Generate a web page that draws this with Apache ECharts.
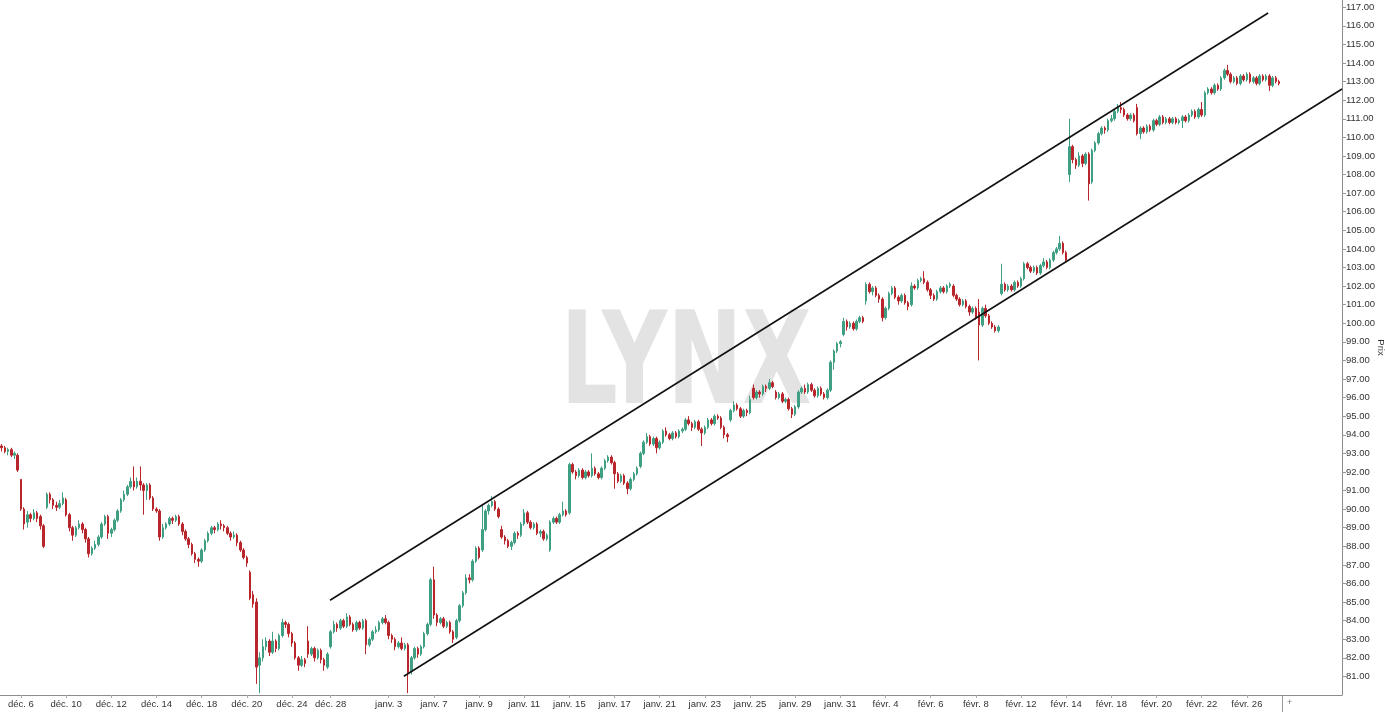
<!DOCTYPE html>
<html><head><meta charset="utf-8">
<script src="https://cdn.jsdelivr.net/npm/echarts@6/dist/echarts.min.js"></script>
<style>html,body{margin:0;padding:0;background:#fff}#c{width:1385px;height:715px}</style>
</head><body><div id="c"></div>
<script>
// Tick labels on the time axis and the candle index at which each sits
const dateLabels = ['déc. 6','déc. 10','déc. 12','déc. 14','déc. 18','déc. 20','déc. 24','déc. 28','janv. 3','janv. 7','janv. 9','janv. 11','janv. 15','janv. 17','janv. 21','janv. 23','janv. 25','janv. 29','janv. 31','févr. 4','févr. 6','févr. 8','févr. 12','févr. 14','févr. 18','févr. 20','févr. 22','févr. 26'];
const labelIndex = [6,20,34,48,62,76,90,102,120,134,148,162,176,190,204,218,232,246,260,274,288,302,316,330,344,358,372,386];
const slotCount = 416;
// price ticks
const priceTicks = [81,82,83,84,85,86,87,88,89,90,91,92,93,94,95,96,97,98,99,100,101,102,103,104,105,106,107,108,109,110,111,112,113,114,115,116,117];
// candles: [open, close, low, high]
const candlesDec = [
[93.4,93.3,93.1,93.5],[93.3,93.1,93.0,93.4],[93.1,93.2,92.9,93.3],[93.2,92.9,92.8,93.3],[92.9,93.0,92.7,93.1],
[92.9,92.1,92.0,93.0],[91.6,90.0,89.9,91.6],[90.0,89.2,88.9,90.1],[89.3,89.7,89.0,89.9],[89.7,89.5,89.3,89.8],
[89.5,89.8,89.4,90.0],[89.8,89.5,89.3,89.9],[89.6,89.1,88.9,89.7],[89.1,88.0,87.9,89.2],[90.1,90.8,90.0,90.9],
[90.8,90.5,90.3,90.9],[90.5,90.2,90.0,90.6],[90.2,90.1,89.9,90.4],[90.1,90.3,90.0,90.5],[90.3,90.6,90.2,90.9],
[90.5,89.7,89.6,90.6],[89.7,89.0,88.8,89.8],[89.0,88.6,88.3,89.1],[88.6,89.0,88.5,89.1],[89.0,89.2,88.9,89.4],
[89.2,88.9,88.7,89.3],[88.9,88.4,88.2,89.0],[88.4,87.6,87.4,88.5],[87.6,87.9,87.5,88.0],[87.9,88.1,87.8,88.3],
[88.1,88.5,88.0,88.6],[88.5,89.2,88.4,89.3],[89.2,89.6,89.1,89.7],[89.6,88.7,88.4,89.7],[88.7,88.9,88.5,89.0],
[88.9,89.4,88.8,89.5],[89.4,89.9,89.3,90.0],[89.9,90.5,89.8,90.6],[90.5,90.8,90.4,91.0],[90.8,91.2,90.7,91.3],
[91.2,91.5,91.1,91.7],[91.5,91.2,91.0,92.3],[91.2,91.5,91.1,91.7],[91.5,91.3,91.0,92.3],[91.3,91.0,89.7,91.4],
[91.0,91.3,90.5,91.4],[91.3,90.6,90.5,91.4],[90.6,90.0,89.9,90.7],[90.0,89.9,89.8,90.1],[89.9,88.5,88.3,90.0],
[88.5,89.0,88.4,89.2],[89.0,89.2,88.9,89.3],[89.2,89.5,89.1,89.6],[89.5,89.4,89.2,89.6],[89.4,89.6,89.3,89.7],
[89.6,89.2,89.1,89.7],[89.2,88.8,88.6,89.3],[88.8,88.4,88.3,88.9],[88.4,88.1,87.9,88.5],[88.1,87.6,87.5,88.2],
[87.6,87.3,87.1,87.7],[87.3,87.2,86.9,87.4],[87.2,87.8,87.1,87.9],[87.8,88.3,87.7,88.4],[88.3,88.7,88.2,88.8],
[88.7,89.0,88.6,89.1],[89.0,88.9,88.7,89.1],[88.9,89.2,88.8,89.3],[89.2,89.1,88.9,89.4],[89.1,89.0,88.8,89.2],
[89.0,88.7,88.6,89.1],[88.7,88.5,88.3,88.8],[88.5,88.6,88.4,88.8],[88.6,88.2,88.0,88.7],[88.2,87.8,87.7,88.3],
[87.8,87.4,87.3,87.9],[87.4,87.1,86.9,87.5],[86.6,85.2,85.1,86.7],[85.4,84.9,84.7,85.6],[85.0,81.5,80.6,85.2],
[81.6,82.0,80.1,82.3],[82.0,82.6,81.8,83.0],[82.6,82.9,82.4,83.1],[82.9,82.3,82.1,83.0],[82.3,82.9,82.2,83.4],
[82.9,82.5,82.3,83.0],[82.5,83.2,82.4,83.3],[83.2,83.9,83.1,84.1],[83.9,83.8,83.6,84.0],[83.8,83.3,83.1,83.9],
[83.3,82.8,82.6,83.4],[82.8,82.0,81.9,82.9],[82.0,81.6,81.3,82.1],[81.6,81.9,81.5,82.1],[81.9,81.7,81.5,82.0],
[82.9,82.2,82.0,83.7],[82.2,82.5,82.1,82.6],[82.5,82.0,81.8,82.6],[82.0,82.4,81.9,82.5],[82.4,81.9,81.7,82.5],
[81.9,81.6,81.3,82.0],[81.5,82.2,81.4,82.3],[82.6,83.4,82.5,83.5],[83.4,83.8,83.3,84.0],[83.8,83.6,83.4,83.9],
[83.6,84.0,83.5,84.1],[84.0,83.7,83.6,84.1],[83.7,84.2,83.6,84.4],[84.2,83.8,83.7,84.3],[83.8,83.5,83.4,83.9],
[83.5,83.9,83.4,84.0],[83.9,83.6,83.5,84.0],[83.6,84.0,83.5,84.1]
];
const candlesJan = [
[84.0,82.7,82.2,84.1],[82.7,83.0,82.6,83.1],[83.0,83.4,82.9,83.5],[83.4,83.5,83.3,83.7],[83.5,83.9,83.4,84.0],
[83.9,84.1,83.8,84.2],[84.1,83.9,83.8,84.3],[83.9,83.2,83.0,84.0],[83.2,83.0,82.8,83.3],[83.0,82.6,82.4,83.1],
[82.6,82.8,82.5,82.9],[82.8,82.5,82.4,83.1],[82.5,82.7,82.4,82.8],[82.7,81.2,80.1,82.8],[81.3,82.0,81.1,82.1],
[82.0,82.5,81.9,82.6],[82.5,82.2,82.0,82.6],[82.2,82.6,82.1,82.7],[82.6,83.3,82.5,83.4],[83.3,83.8,83.2,83.9],
[83.8,86.2,83.7,86.3],[86.2,84.3,84.1,86.9],[84.3,83.9,83.7,84.4],[83.9,84.1,83.8,84.2],[84.1,83.7,83.6,84.2],
[83.7,83.9,83.6,84.0],[83.9,83.4,83.3,84.0],[83.4,83.0,82.8,83.5],[83.1,84.0,83.0,84.1],[84.0,84.8,83.9,84.9],
[84.8,85.5,84.7,85.6],[85.5,86.3,85.4,86.5],[86.3,86.2,86.0,86.5],[86.2,87.2,86.1,87.3],[87.2,87.9,87.1,88.0],
[87.9,87.4,87.3,88.0],[87.8,88.9,87.7,90.2],[88.9,89.9,88.8,90.0],[89.9,90.2,89.7,90.3],[90.2,90.4,90.1,90.7],
[90.4,90.0,89.9,90.5],[90.0,89.6,89.5,90.1],[88.9,88.5,88.4,89.1],[88.5,88.3,88.1,88.6],[88.3,88.0,87.9,88.4],
[88.0,88.2,87.8,88.3],[88.2,88.7,88.1,88.8],[88.7,88.6,88.4,88.8],[88.6,89.2,88.5,89.3],[89.2,89.8,89.1,90.0],
[89.8,89.3,89.2,89.9],[89.3,89.0,88.9,89.4],[89.0,89.2,88.9,89.3],[89.2,88.7,88.6,89.3],[88.7,88.8,88.5,88.9],
[88.8,88.4,88.3,88.9],[88.4,88.6,88.3,88.7],[87.8,89.3,87.7,89.4],[89.3,89.5,89.2,89.6],[89.5,89.3,89.2,89.6],
[89.3,89.7,89.2,89.8],[89.7,89.9,89.6,90.4],[89.9,89.7,89.6,90.0],[89.8,92.4,89.7,92.5],[92.4,92.0,91.9,92.5],
[92.0,91.8,91.6,92.1],[91.8,92.1,91.7,92.2],[92.1,91.7,91.6,92.2],[91.7,92.0,91.6,92.1],[92.0,91.8,91.7,92.1],
[91.8,92.2,91.7,93.0],[92.2,91.9,91.8,92.3],[91.9,91.7,91.6,92.0],[91.7,92.2,91.6,92.3],[92.2,92.6,92.1,92.7],
[92.6,92.8,92.5,92.9],[92.8,92.5,92.4,92.9],[92.5,91.9,91.1,92.6],[91.9,91.5,91.4,92.0],[91.5,91.8,91.4,91.9],
[91.8,91.4,91.3,91.9],[91.4,91.1,90.8,91.5],[91.1,91.6,91.0,91.7],[91.6,91.9,91.5,92.0],[91.9,92.2,91.8,92.3],
[92.3,93.0,92.2,93.1],[93.0,93.6,92.9,93.7],[93.6,93.9,93.5,94.1],[93.9,93.5,93.4,94.0],[93.5,93.8,93.4,93.9],
[93.8,93.3,93.0,93.9],[93.3,93.6,93.2,93.7],[93.6,94.2,93.5,94.3],[94.2,94.0,93.9,94.4],[94.0,93.8,93.7,94.1],
[93.8,94.1,93.7,94.2],[94.1,93.9,93.8,94.2],[93.9,94.2,93.8,94.3],[94.2,94.3,94.1,94.4],[94.3,94.8,94.2,94.9],
[94.8,94.6,94.5,95.0],[94.6,94.4,94.2,94.7],[94.4,94.7,94.3,94.8],[94.7,94.3,94.2,94.8],[94.3,94.1,93.4,94.4],
[94.1,94.4,94.0,94.5],[94.4,94.8,94.3,94.9],[94.8,94.6,94.5,94.9],[94.6,95.0,94.5,95.1],[95.0,94.9,94.8,95.1],
[94.9,94.4,94.3,95.0],[94.4,94.0,93.8,94.5],[94.0,93.9,93.6,94.1],[94.8,95.3,94.7,95.4],[95.3,95.6,95.2,95.8],
[95.6,95.4,95.3,95.7],[95.4,95.0,94.9,95.5],[95.0,95.3,94.9,95.4],[95.3,95.2,95.0,95.4],[95.2,95.9,95.1,96.1],
[96.5,96.0,95.9,96.7],[96.0,96.3,95.9,96.4],[96.3,96.2,96.0,96.4],[96.2,96.6,96.1,96.7],[96.6,96.5,96.3,96.7],
[96.5,96.8,96.4,97.0],[96.8,96.6,96.5,96.9],[96.3,96.0,95.9,96.4],[96.0,96.2,95.9,96.3],[96.2,95.8,95.7,96.3],
[95.8,95.9,95.7,96.0],[95.9,95.4,95.3,96.0],[95.4,95.1,94.9,95.5],[95.1,95.5,95.0,95.6],[95.5,96.3,95.4,96.4],
[96.3,96.5,96.2,96.6],[96.5,96.3,96.2,96.7],[96.3,96.7,96.2,96.8],[96.7,96.4,96.3,96.8],[96.4,96.1,96.0,96.5],
[96.1,96.5,96.0,96.6],[96.5,96.2,96.1,96.6],[96.2,96.0,95.9,96.3],[96.0,96.4,95.9,96.5],[96.4,97.9,96.3,98.0],
[97.9,98.5,97.5,98.6],[98.5,98.9,98.4,99.0],[98.9,99.0,98.7,99.1],[99.4,100.1,99.3,100.3],[100.1,99.8,99.6,100.2],
[99.8,100.0,99.7,100.1],[100.0,99.7,99.6,100.1],[99.7,100.1,99.6,100.2],[100.1,100.3,100.0,100.4],[100.3,100.1,100.0,100.4]
];
const candlesFeb = [
[101.2,102.1,101.0,102.2],[102.1,101.7,101.6,102.2],[101.7,101.9,101.5,102.0],[101.9,101.5,101.4,102.0],[101.5,101.3,101.1,101.6],
[101.3,100.3,100.1,101.4],[100.3,100.8,100.2,100.9],[100.8,101.6,100.7,101.7],[101.6,101.9,101.5,102.0],[101.9,101.4,101.3,102.0],
[101.4,101.2,101.0,101.5],[101.2,101.5,101.1,101.6],[101.5,101.1,101.0,101.6],[101.1,100.9,100.7,101.2],[101.0,102.0,100.9,102.2],
[102.0,101.9,101.8,102.1],[101.9,102.3,101.8,102.4],[102.3,102.4,102.2,102.5],[102.4,102.2,102.1,102.8],[102.2,101.8,101.7,102.3],
[101.8,101.5,101.3,101.9],[101.5,101.3,101.2,101.6],[101.3,101.7,101.2,101.8],[101.7,101.9,101.6,102.0],[101.9,101.7,101.6,102.0],
[101.7,102.0,101.6,102.1],[102.0,102.1,101.9,102.2],[102.0,101.5,101.4,102.1],[101.5,101.3,101.2,101.6],[101.3,101.0,100.9,101.4],
[101.0,101.2,100.9,101.3],[101.2,100.9,100.8,101.3],[100.9,100.6,100.4,101.0],[100.6,100.8,100.5,100.9],[100.8,100.3,100.2,100.9],
[100.6,99.9,98.0,101.3],[99.9,100.8,99.8,100.9],[100.8,100.4,100.3,101.0],[100.4,100.0,99.9,100.5],[100.0,99.8,99.7,100.1],
[99.8,99.6,99.5,99.9],[99.6,99.8,99.5,99.9],[101.6,102.1,101.5,103.2],[102.1,101.8,101.7,102.2],[101.8,102.0,101.7,102.1],
[102.0,101.8,101.7,102.1],[101.8,102.2,101.7,102.3],[102.2,102.0,101.9,102.3],[102.0,102.4,101.9,102.5],[102.4,103.2,102.3,103.3],
[103.2,103.0,102.9,103.3],[103.0,102.8,102.7,103.1],[102.8,103.0,102.7,103.1],[103.0,102.7,102.6,103.1],[102.7,103.1,102.6,103.2],
[103.1,103.3,103.0,103.5],[103.3,103.0,102.9,103.4],[103.0,103.4,102.9,103.5],[103.4,103.8,103.3,103.9],[103.8,104.0,103.7,104.1],
[104.0,104.3,103.9,104.7],[104.3,103.8,103.7,104.4],[103.8,103.4,103.3,103.9],[108.0,109.5,107.6,111.0],[109.5,108.8,108.6,109.6],
[108.8,108.5,108.3,108.9],[108.5,109.0,108.4,109.2],[109.0,108.6,108.4,109.1],[108.6,109.1,108.5,109.2],[109.1,107.5,106.6,109.2],
[107.6,109.3,107.5,109.4],[109.3,109.7,109.2,109.8],[109.7,110.2,109.6,110.3],[110.2,110.5,110.1,110.6],[110.5,110.4,110.2,110.6],
[110.4,110.9,110.3,111.0],[110.9,111.0,110.8,111.2],[111.0,111.4,110.9,111.5],[111.4,111.6,111.3,111.8],[111.6,111.5,111.3,111.9],
[111.5,111.2,111.1,111.6],[111.2,111.0,110.9,111.3],[111.0,111.2,110.9,111.3],[111.2,110.9,110.8,111.3],[111.6,110.2,110.1,111.8],
[110.2,110.5,109.9,110.6],[110.5,110.3,110.2,110.6],[110.3,110.6,110.2,110.7],[110.6,110.4,110.3,110.7],[110.4,110.9,110.3,111.0],
[110.9,110.7,110.6,111.0],[110.7,111.1,110.6,111.2],[111.1,110.8,110.7,111.2],[110.8,111.0,110.7,111.1],[111.0,110.8,110.7,111.1],
[110.8,111.0,110.7,111.1],[111.0,110.8,110.7,111.1],[110.8,110.9,110.7,111.0],[110.9,111.1,110.5,111.2],[111.1,110.9,110.8,111.2],
[110.9,111.2,110.8,111.3],[111.2,111.4,111.1,111.5],[111.4,111.1,111.0,111.5],[111.1,111.5,111.0,111.6],[111.5,111.2,111.1,111.9],
[111.2,112.4,111.1,112.5],[112.4,112.6,112.3,112.7],[112.6,112.4,112.3,112.7],[112.4,112.8,112.3,112.9],[112.8,112.6,112.5,112.9],
[112.6,113.2,112.5,113.3],[113.2,113.6,113.1,113.7],[113.6,113.4,113.3,113.9],[113.4,113.0,112.9,113.5],[113.0,113.2,112.9,113.3],
[113.2,112.9,112.8,113.3],[112.9,113.3,112.8,113.4],[113.3,113.1,113.0,113.4],[113.1,113.4,113.0,113.5],[113.4,113.0,112.9,113.5],
[113.0,113.2,112.9,113.3],[113.2,112.9,112.8,113.3],[112.9,113.3,112.8,113.4],[113.3,113.1,113.0,113.4],[113.1,113.3,113.0,113.4],
[113.3,112.8,112.5,113.4],[112.8,113.2,112.7,113.3],[113.2,113.0,112.9,113.3],[113.0,112.9,112.8,113.1]
];
// channel lines: [candle position, price]
const upperChannel = [[101.8,85.10],[392.6,116.69]];
const lowerChannel = [[124.7,81.01],[415.5,112.60]];

const candles = candlesDec.concat(candlesJan, candlesFeb);
const cats = [];
for (let i = 0; i < slotCount; i++) cats.push(String(i));
const labelMap = {};
labelIndex.forEach((k, j) => { labelMap[k] = dateLabels[j]; });
const showLabel = (idx) => labelMap[idx] !== undefined;

const chart = echarts.init(document.getElementById('c'));
chart.setOption({
  animation: false,
  backgroundColor: '#ffffff',
  grid: { left: 0, right: 43, top: 0, bottom: 20, containLabel: false, outerBoundsMode: 'none' },
  graphic: [
    { type: 'text', z: -10, silent: true, x: 686, y: 370, scaleX: 0.78,
      style: { text: 'LYNX', fill: '#e3e3e3', font: 'bold 128px "Liberation Sans Narrow", "DejaVu Sans Condensed", sans-serif', textAlign: 'center', textVerticalAlign: 'middle' } },
    { type: 'line', silent: true, shape: { x1: 1282.5, y1: 695, x2: 1282.5, y2: 712 }, style: { stroke: '#999', lineWidth: 1 } },
    { type: 'text', silent: true, x: 1287, y: 703, style: { text: '+', fill: '#777', font: '9px "Liberation Sans", Arial', textVerticalAlign: 'middle' } }
  ],
  xAxis: [
    { type: 'category', data: cats, boundaryGap: true,
      axisLine: { show: true, onZero: false, lineStyle: { color: '#8c8c8c', width: 1 } },
      axisTick: { show: true, alignWithLabel: true, length: 3, interval: (i) => showLabel(i), lineStyle: { color: '#aaa' } },
      axisLabel: { interval: (i) => showLabel(i), formatter: (v, i) => labelMap[Number(v)] || '', fontSize: 9.5, color: '#333', margin: 4, fontFamily: '"Liberation Sans", Arial, sans-serif' },
      splitLine: { show: false } },
    { type: 'value', min: -0.5, max: slotCount - 0.5, show: false, axisLine: { onZero: false } }
  ],
  yAxis: {
    type: 'value', position: 'right', min: 80, max: 117.39, scale: true,
    axisLine: { show: true, onZero: false, lineStyle: { color: '#8c8c8c', width: 1 } },
    axisTick: { show: true, length: 4, customValues: priceTicks, lineStyle: { color: '#999' } },
    axisLabel: { customValues: priceTicks, formatter: (v) => v.toFixed(2), fontSize: 9.5, color: '#333', margin: 4, fontFamily: '"Liberation Sans", Arial, sans-serif' },
    splitLine: { show: false },
    name: 'Prix', nameLocation: 'middle', nameRotate: -90, nameGap: 34, nameMoveOverlap: false,
    nameTextStyle: { fontSize: 9.5, color: '#333', fontFamily: '"Liberation Sans", Arial, sans-serif' }
  },
  series: [
    { type: 'candlestick', data: candles, barWidth: 2,
      itemStyle: { color: '#3f9f83', color0: '#b8262c', borderColor: '#3f9f83', borderColor0: '#b8262c', borderWidth: 1 } },
    { type: 'line', xAxisIndex: 1, data: upperChannel, symbol: 'none', lineStyle: { color: '#111', width: 1.6 }, z: 5 },
    { type: 'line', xAxisIndex: 1, data: lowerChannel, symbol: 'none', lineStyle: { color: '#111', width: 1.6 }, z: 5 }
  ]
});
</script></body></html>
